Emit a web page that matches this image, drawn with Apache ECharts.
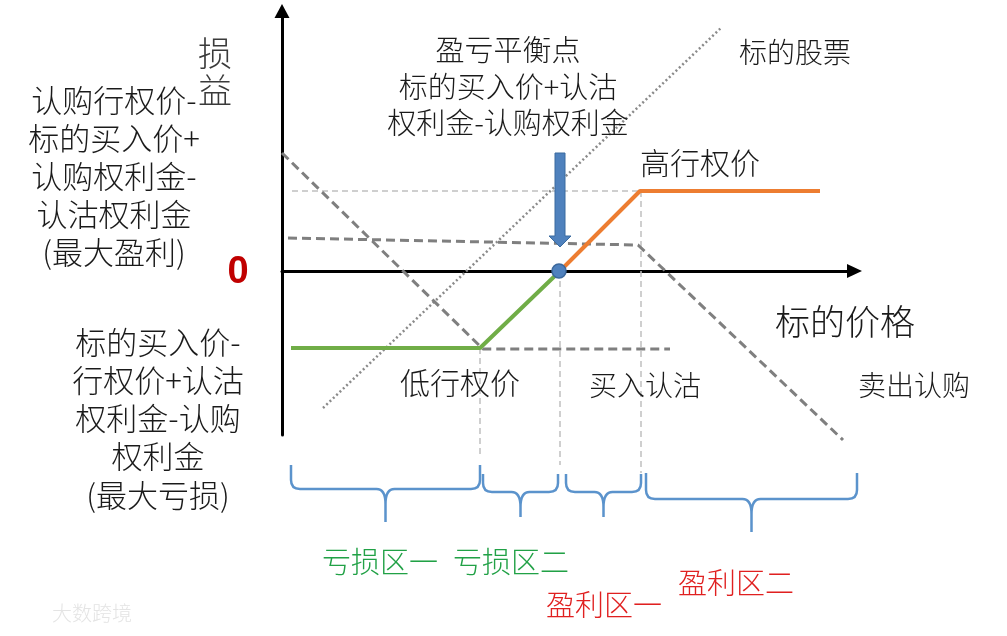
<!DOCTYPE html>
<html>
<head>
<meta charset="utf-8">
<script src="https://cdn.jsdelivr.net/npm/echarts@6/dist/echarts.min.js"></script>
<style>
  html, body { margin: 0; padding: 0; background: #ffffff; }
  #chart { width: 1007px; height: 636px; }
</style>
</head>
<body>
<div id="chart"></div>
<script>
// ---- Data (schematic payoff units) ----
const stockX = [4.1, 44.0];
const stockY = [-13.7, 24.4];
const buyPutX = [0.0, 20.1, 38.8];
const buyPutY = [11.8, -7.8, -7.8];
const sellCallX = [0.6, 35.6, 56.1];
const sellCallY = [3.3, 2.6, -16.9];
const lossX = [0.9, 19.8, 27.8];
const lossY = [-7.7, -7.7, 0];
const gainX = [27.8, 35.8, 53.8];
const gainY = [0, 8.0, 8.0];
const breakEvenPoint = [27.7, 0];
const maxProfitGuideX = [1.0, 35.8];
const maxProfitGuideY = [8.0, 8.0];
// [x, yFrom, yTo]
const strikeGuides = [[19.8, -7.7, -18.6], [27.8, 0, -19.4], [35.9, 8.0, -20.2]];
// [xStart, xEnd, yTop, yMid, yTip]
const zones = [
  [0.9, 19.8, -19.4, -21.8, -25.1],
  [20.1, 27.6, -20.3, -22.1, -24.6],
  [28.4, 35.9, -20.3, -22.1, -24.6],
  [36.4, 57.5, -20.2, -22.8, -26.1]
];
// [x, yTop, yTip]
const pointerArrow = [[27.8, 11.8, 2.4]];

const zip = (xs, ys) => xs.map((x, i) => [x, ys[i]]);
const FONT = '"Noto Sans CJK SC", "Noto Sans", sans-serif';

const chart = echarts.init(document.getElementById('chart'));

const dashedGray = { color: '#7f7f7f', width: 3, type: [9, 5] };
const lightGuide = { color: '#c0c0c0', width: 1.5, type: [6, 4] };

const series = [
  { type: 'line', data: zip(stockX, stockY), symbol: 'none', clip: false, z: 2,
    lineStyle: { color: '#8a8a8a', width: 2.5, type: [2, 2.6] } },
  { type: 'line', data: zip(buyPutX, buyPutY), symbol: 'none', clip: false, z: 2,
    lineStyle: dashedGray },
  { type: 'line', data: zip(sellCallX, sellCallY), symbol: 'none', clip: false, z: 2,
    lineStyle: dashedGray },
  { type: 'line', data: zip(maxProfitGuideX, maxProfitGuideY), symbol: 'none', clip: false, z: 1,
    lineStyle: lightGuide }
];
strikeGuides.forEach(g => {
  series.push({ type: 'line', data: [[g[0], g[1]], [g[0], g[2]]], symbol: 'none', clip: false, z: 1,
    lineStyle: lightGuide });
});
series.push(
  { type: 'line', data: zip(lossX, lossY), symbol: 'none', clip: false, z: 4,
    lineStyle: { color: '#70ad47', width: 4 } },
  { type: 'line', data: zip(gainX, gainY), symbol: 'none', clip: false, z: 4,
    lineStyle: { color: '#ed7d31', width: 4 } },
  { type: 'scatter', data: [breakEvenPoint], symbolSize: 14, z: 6,
    itemStyle: { color: '#4f81bd', borderColor: '#3b689c', borderWidth: 1.5, opacity: 1 } },
  { type: 'custom', data: zones, clip: false, z: 3,
    renderItem: function (params, api) {
      const p1 = api.coord([api.value(0), api.value(2)]);
      const p2 = api.coord([api.value(1), api.value(2)]);
      const mid = api.coord([api.value(0), api.value(3)])[1];
      const tip = api.coord([api.value(0), api.value(4)])[1];
      const x1 = p1[0], x2 = p2[0], top = p1[1];
      const cx = (x1 + x2) / 2, r = 9, rv = 15;
      const d = 'M' + x1 + ',' + top +
        ' L' + x1 + ',' + (mid - r) +
        ' Q' + x1 + ',' + mid + ' ' + (x1 + r) + ',' + mid +
        ' L' + (cx - r) + ',' + mid +
        ' Q' + cx + ',' + mid + ' ' + cx + ',' + (mid + rv) +
        ' L' + cx + ',' + tip +
        ' M' + cx + ',' + (mid + rv) +
        ' Q' + cx + ',' + mid + ' ' + (cx + r) + ',' + mid +
        ' L' + (x2 - r) + ',' + mid +
        ' Q' + x2 + ',' + mid + ' ' + x2 + ',' + (mid - r) +
        ' L' + x2 + ',' + top;
      return { type: 'path', shape: { pathData: d },
        style: { fill: 'none', stroke: '#5b93cc', lineWidth: 2.5 } };
    } },
  { type: 'custom', data: pointerArrow, clip: false, z: 5,
    renderItem: function (params, api) {
      const a = api.coord([api.value(0), api.value(1)]);
      const b = api.coord([api.value(0), api.value(2)]);
      const cx = a[0], top = a[1], tip = b[1];
      const sw = 5, hw = 11, hh = 11;
      return { type: 'polygon',
        shape: { points: [[cx - sw, top], [cx + sw, top], [cx + sw, tip - hh], [cx + hw, tip - hh],
                          [cx, tip], [cx - hw, tip - hh], [cx - sw, tip - hh]] },
        style: { fill: '#4f81bd', stroke: '#3a6a9f', lineWidth: 1 } };
    } }
);

function txt(text, x, y, size, color, extra) {
  return Object.assign({ type: 'text', z: 100,
    style: { text: text, x: x, y: y, align: 'center', verticalAlign: 'middle',
      font: '300 ' + size + 'px ' + FONT, fill: color || '#1a1a1a' } }, extra || {});
}
function mtxt(text, x, y, size, lh, color) {
  const t = txt(text, x, y, size, color);
  t.style.lineHeight = lh;
  return t;
}

const option = {
  animation: false,
  backgroundColor: '#ffffff',
  grid: { left: 282, right: 152.5, top: 11, bottom: 201, containLabel: false },
  xAxis: {
    type: 'value', min: 0, max: 57.25,
    axisLine: { show: true, onZero: true, symbol: ['none', 'triangle'], symbolSize: [14, 15],
      lineStyle: { color: '#000000', width: 3 } },
    axisTick: { show: false }, axisLabel: { show: false }, splitLine: { show: false }
  },
  yAxis: {
    type: 'value', min: -16.4, max: 26.0,
    axisLine: { show: true, onZero: false, symbol: ['none', 'triangle'], symbolSize: [15, 14],
      lineStyle: { color: '#000000', width: 3 } },
    axisTick: { show: false }, axisLabel: { show: false }, splitLine: { show: false }
  },
  series: series,
  graphic: [
    mtxt('损\n益', 215, 71.5, 34, 37, '#3a3a3a'),
    mtxt('认购行权价-\n标的买入价+\n认购权利金-\n认沽权利金\n(最大盈利)', 114, 176, 31, 38),
    {
      type: 'text', z: 100,
      style: { text: '0', x: 238, y: 273, align: 'center', verticalAlign: 'middle',
        font: 'bold 38px "Liberation Sans", Arial, sans-serif', fill: '#c00000' }
    },
    mtxt('标的买入价-\n行权价+认沽\n权利金-认购\n权利金\n(最大亏损)', 158, 418.5, 31, 38.2),
    mtxt('盈亏平衡点\n标的买入价+认沽\n权利金-认购权利金', 508, 86.5, 29, 36.5),
    txt('标的股票', 795, 52, 28),
    txt('高行权价', 700, 163, 30),
    txt('标的价格', 845, 322, 35),
    txt('低行权价', 460, 383, 30),
    txt('买入认沽', 645, 385, 28),
    txt('卖出认购', 914, 385, 28),
    txt('亏损区一', 380, 562, 29, '#21a146'),
    txt('亏损区二', 511, 562, 29, '#21a146'),
    txt('盈利区一', 604, 605, 29, '#e02020'),
    txt('盈利区二', 736, 583, 29, '#e02020'),
    txt('大数跨境', 92, 613, 20, '#e4e4e4')
  ]
};

chart.setOption(option);
</script>
</body>
</html>
